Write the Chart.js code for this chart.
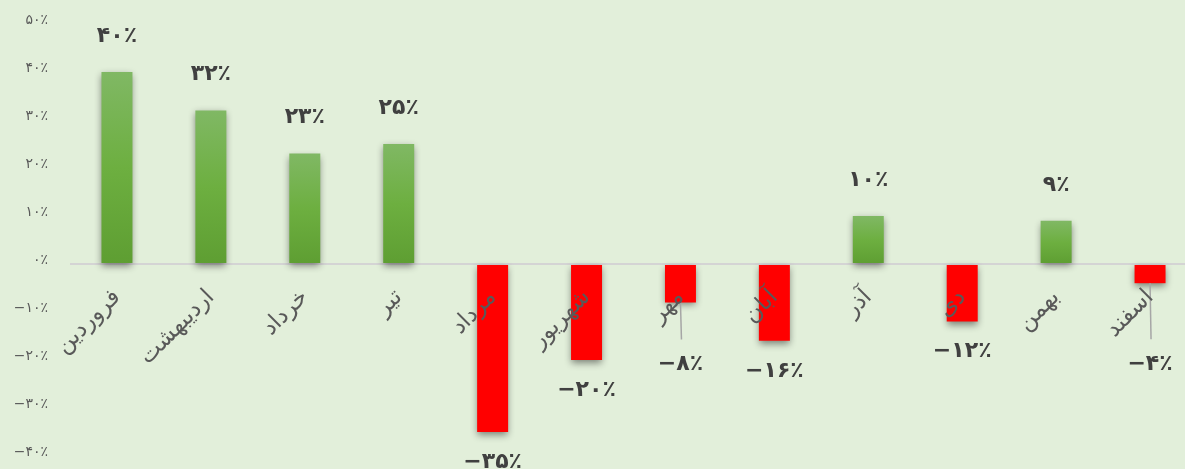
<!DOCTYPE html>
<html>
<head>
<meta charset="utf-8">
<script src="https://cdn.jsdelivr.net/npm/chart.js@4.4.0/dist/chart.umd.min.js"></script>
<style>
  html, body { margin: 0; padding: 0; background: #e2efda; overflow: hidden; }
  #wrap { width: 1185px; height: 469px; overflow: hidden; }
</style>
</head>
<body>
<div id="wrap"><canvas id="chart" width="1197" height="469"></canvas></div>
<script>
const months = ["فروردین", "اردیبهشت", "خرداد", "تیر", "مرداد", "شهریور", "مهر", "آبان", "آذر", "دی", "بهمن", "اسفند"];
const values = [40, 32, 23, 25, -35, -20, -8, -16, 10, -12, 9, -4];
const yMin = -40;
const yMax = 50;
const yStep = 10;

const fontFamily = '"DejaVu Sans", "Noto Sans", sans-serif';
const faDigits = "۰۱۲۳۴۵۶۷۸۹";

function toFa(n) {
  const s = String(Math.abs(n)).replace(/\d/g, d => faDigits[d]);
  return (n < 0 ? "\u2212" : "") + s + "٪";
}

// extra distance for labels that hang under a leader line
const leaderGap = { 6: 32, 11: 51 };

function barColor(context) {
  const v = context.raw;
  if (v < 0) return "#ff0000";
  const chart = context.chart;
  const yScale = chart.scales.y;
  if (!yScale) return "#6eae42";
  const top = yScale.getPixelForValue(v);
  const bottom = yScale.getPixelForValue(0);
  if (!isFinite(top) || !isFinite(bottom)) return "#6eae42";
  const g = chart.ctx.createLinearGradient(0, top, 0, bottom);
  g.addColorStop(0, "#80b864");
  g.addColorStop(0.5, "#6daf40");
  g.addColorStop(1, "#5e9e32");
  return g;
}

const barShadow = {
  id: "barShadow",
  beforeDatasetDraw(chart) {
    const ctx = chart.ctx;
    ctx.save();
    ctx.shadowColor = "rgba(0, 0, 0, 0.45)";
    ctx.shadowBlur = 7;
    ctx.shadowOffsetX = 0;
    ctx.shadowOffsetY = 3;
  },
  afterDatasetDraw(chart) {
    chart.ctx.restore();
  }
};

const barLabels = {
  id: "barLabels",
  afterDatasetsDraw(chart) {
    const ctx = chart.ctx;
    const meta = chart.getDatasetMeta(0);
    ctx.save();
    ctx.font = "bold 22px " + fontFamily;
    ctx.fillStyle = "#404040";
    ctx.textAlign = "center";
    ctx.textBaseline = "middle";
    meta.data.forEach((bar, i) => {
      const v = values[i];
      const gap = leaderGap[i] || 0;
      const y = v >= 0 ? bar.y - 36 : bar.y + 30 + gap;
      if (gap) {
        ctx.strokeStyle = "#a6a6a6";
        ctx.lineWidth = 1.5;
        ctx.beginPath();
        ctx.moveTo(bar.x, bar.y);
        ctx.lineTo(bar.x + 1, y - 25);
        ctx.stroke();
      }
      ctx.fillText(toFa(v), bar.x, y);
    });
    ctx.restore();
  }
};

const chart = new Chart(document.getElementById("chart"), {
  type: "bar",
  data: {
    labels: months,
    datasets: [{
      data: values,
      backgroundColor: barColor,
      borderWidth: 0,
      barPercentage: 0.33,
      categoryPercentage: 1
    }]
  },
  options: {
    responsive: false,
    animation: false,
    layout: { padding: { top: 24, bottom: 13, left: 0, right: 0 } },
    plugins: { legend: { display: false }, tooltip: { enabled: false } },
    scales: {
      x: {
        position: { y: 0 },
        afterFit: s => {
          s.height = 0;
          s.paddingTop = 0;
          s.paddingBottom = 0;
          s.paddingLeft = 0;
          s.paddingRight = 0;
        },
        grid: { display: false, drawTicks: false },
        border: { display: false },
        ticks: {
          z: 1,
          autoSkip: false,
          minRotation: 45,
          maxRotation: 45,
          padding: 20,
          color: "#595959",
          font: { size: 23, family: fontFamily }
        }
      },
      y: {
        min: yMin,
        max: yMax,
        afterFit: s => {
          s.width = 70;
          s.paddingTop = 0;
          s.paddingBottom = 0;
        },
        grid: {
          drawTicks: false,
          lineWidth: 2,
          color: c => (c.tick && c.tick.value === 0 ? "#d4d4d4" : "rgba(0,0,0,0)")
        },
        border: { display: false },
        ticks: {
          stepSize: yStep,
          padding: 22,
          labelOffset: -4,
          color: "#595959",
          font: { size: 14, family: fontFamily },
          callback: v => toFa(v)
        }
      }
    }
  },
  plugins: [barShadow, barLabels]
});
chart.update();
</script>
</body>
</html>
